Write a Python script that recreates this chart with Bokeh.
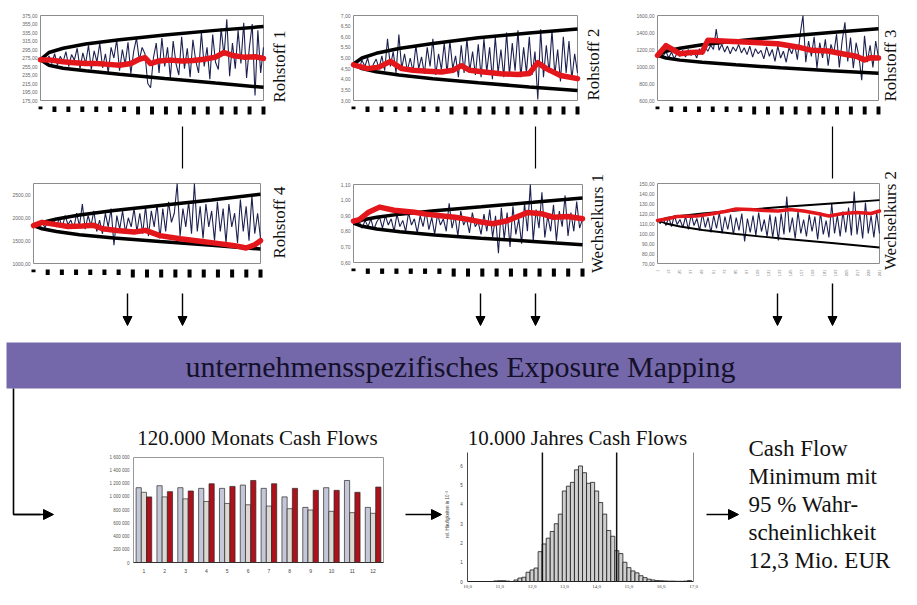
from math import pi
from bokeh.plotting import figure
from bokeh.models import Range1d, Arrow, NormalHead
from bokeh.core.properties import value
from bokeh.embed import file_html
from bokeh.resources import INLINE

SERIF = value("Liberation Serif")
SANS = value("Liberation Sans")
NAVY = "#1d2150"
RED = "#e3161c"
UP = pi / 2  # text reading bottom-to-top

# ---------------- data: six simulated price paths ----------------
N = 80
env_x = [0, 3, 8, 16, 28, 44, 62, 79]
block_months = [1, 16, 31, 46, 61, 76, 91, 106, 121, 136, 151, 166, 181, 196, 211, 226, 241]
w2_months = [1, 13, 25, 37, 49, 61, 73, 85, 97, 109, 121, 133, 145, 157, 169, 181, 193, 205, 217, 229, 241]

r1_ticks = [175, 195, 215, 235, 255, 275, 295, 315, 335, 355, 375]
r1_upper = [271, 288, 298, 308, 318, 329, 340, 349]
r1_lower = [271, 258, 251, 245, 237, 227, 216, 206]
r1_red_x = [0, 4, 8, 12, 16, 20, 24, 28, 32, 35, 37, 39, 42, 46, 50, 54, 58, 62, 65, 68, 72, 76, 79]
r1_red = [271, 270, 266, 264, 262, 262, 260, 258, 262, 272, 276, 262, 268, 270, 268, 269, 272, 277, 288, 281, 277, 278, 274]
r1_sim = [271, 275, 265, 280, 262, 285, 258, 279, 266, 290,
          255, 283, 270, 298, 250, 287, 262, 305, 248, 292,
          266, 310, 252, 285, 240, 300, 275, 318, 245, 295,
          260, 312, 238, 290, 322, 270, 300, 285, 215, 205,
          275, 310, 240, 322, 255, 300, 228, 315, 262, 235,
          325, 250, 298, 230, 318, 268, 240, 335, 255, 300,
          225, 330, 265, 248, 345, 280, 366, 232, 310, 250,
          340, 262, 358, 228, 300, 355, 187, 340, 240, 300]

r2_ticks = [3.0, 3.5, 4.0, 4.5, 5.0, 5.5, 6.0, 6.5, 7.0]
r2_upper = [4.72, 5.0, 5.22, 5.45, 5.68, 5.95, 6.18, 6.37]
r2_lower = [4.72, 4.5, 4.35, 4.2, 4.02, 3.83, 3.64, 3.47]
r2_red_x = [0, 5, 9, 13, 17, 21, 26, 31, 35, 38, 41, 46, 52, 58, 62, 65, 68, 73, 79]
r2_red = [4.68, 4.5, 4.57, 4.84, 4.5, 4.42, 4.38, 4.34, 4.42, 4.64, 4.42, 4.34, 4.26, 4.22, 4.27, 4.78, 4.5, 4.18, 4.03]
r2_sim = [4.7, 4.8, 4.5, 4.9, 4.6, 5.0, 4.4, 4.7, 4.95, 4.5,
          5.1, 4.4, 5.9, 4.6, 5.3, 4.3, 6.1, 4.5, 5.2, 4.4,
          5.0, 4.35, 5.6, 4.5, 5.05, 4.25, 5.5, 4.6, 5.9, 4.2,
          5.2, 4.45, 5.7, 4.3, 5.8, 4.5, 5.1, 4.1, 5.6, 4.3,
          5.9, 4.4, 5.3, 4.2, 5.65, 4.1, 5.9, 4.35, 5.5, 4.0,
          6.0, 4.3, 5.4, 4.1, 6.2, 4.2, 5.7, 4.4, 6.3, 4.1,
          5.5, 4.3, 6.0, 4.2, 5.3, 3.05, 6.35, 4.1, 5.6, 4.3,
          6.3, 4.2, 5.4, 3.9, 6.0, 4.3, 5.8, 4.0, 5.2, 4.3]

r3_ticks = [600, 800, 1000, 1200, 1400, 1600]
r3_upper = [1130, 1180, 1215, 1255, 1300, 1350, 1400, 1443]
r3_lower = [1130, 1100, 1075, 1050, 1020, 985, 950, 922]
r3_red_x = [0, 3, 8, 12, 16, 18, 25, 33, 43, 50, 55, 61, 66, 71, 74, 76, 79]
r3_red = [1130, 1245, 1150, 1165, 1170, 1310, 1298, 1285, 1268, 1230, 1190, 1182, 1150, 1120, 1078, 1102, 1100]
r3_sim = [1130, 1150, 1120, 1180, 1100, 1170, 1090, 1160, 1120, 1190,
          1110, 1200, 1130, 1180, 1100, 1210, 1140, 1230, 1180, 1250,
          1200, 1440, 1190, 1260, 1170, 1240, 1150, 1230, 1180, 1260,
          1160, 1220, 1140, 1240, 1110, 1210, 1150, 1190, 1090, 1230,
          1120, 1200, 1060, 1240, 1100, 1180, 1050, 1220, 1150, 1260,
          1080, 1380, 1600, 1050, 1300, 1120, 1350, 980, 1280, 1100,
          1320, 1010, 1260, 1150, 1380, 990, 1300, 1520, 1060, 1340,
          980, 1280, 1120, 840, 1360, 1050, 1250, 990, 1300, 1100]

r4_ticks = [1000, 1500, 2000, 2500]
r4_upper = [1830, 1900, 1975, 2060, 2160, 2270, 2390, 2515]
r4_lower = [1830, 1760, 1700, 1630, 1560, 1480, 1400, 1316]
r4_red_x = [0, 3, 8, 12, 17, 21, 24, 29, 35, 39, 44, 51, 58, 64, 70, 74, 77, 79]
r4_red = [1830, 1900, 1850, 1810, 1820, 1835, 1760, 1720, 1690, 1725, 1610, 1540, 1485, 1440, 1390, 1340, 1410, 1500]
r4_sim = [1830, 1860, 1800, 1900, 1780, 1920, 1850, 1960, 1800, 2000,
          1780, 2050, 1850, 1950, 1760, 2100, 1820, 2300, 1750, 2050,
          1820, 2150, 1700, 1950, 1650, 2100, 1800, 2200, 1400, 2050,
          1750, 2150, 1680, 2000, 1800, 2200, 1700, 2100, 1650, 2250,
          1600, 2150, 1800, 2300, 1550, 2200, 1700, 2350, 1900, 2100,
          2750, 1600, 2200, 1800, 2350, 1650, 2750, 1700, 2250, 1550,
          2300, 1800, 2150, 1500, 2350, 1700, 2200, 1450, 2300, 1800,
          2100, 1450, 2400, 1700, 2250, 1500, 2480, 1650, 2100, 1550]

w1_ticks = [0.6, 0.7, 0.8, 0.9, 1.0, 1.1]
w1_upper = [0.852, 0.872, 0.89, 0.91, 0.932, 0.957, 0.986, 1.014]
w1_lower = [0.852, 0.832, 0.815, 0.797, 0.777, 0.756, 0.735, 0.714]
w1_red_x = [0, 2, 5, 9, 14, 21, 25, 30, 35, 39, 44, 48, 53, 60, 65, 69, 74, 79]
w1_red = [0.865, 0.875, 0.92, 0.955, 0.935, 0.922, 0.91, 0.9, 0.89, 0.878, 0.86, 0.848, 0.868, 0.92, 0.912, 0.89, 0.895, 0.88]
w1_sim = [0.85, 0.84, 0.86, 0.82, 0.87, 0.83, 0.88, 0.81, 0.86, 0.89,
          0.82, 0.9, 0.84, 0.88, 0.8, 0.91, 0.83, 0.87, 0.8, 0.92,
          0.84, 0.88, 0.79, 0.9, 0.83, 0.93, 0.81, 0.89, 0.78, 0.91,
          0.84, 0.88, 0.8, 0.98, 0.82, 0.9, 0.77, 0.93, 0.84, 0.88,
          0.79, 0.92, 0.83, 0.86, 0.78, 0.91, 0.8, 0.94, 0.76, 0.9,
          0.66, 0.95, 0.75, 0.92, 0.7, 0.96, 0.78, 0.88, 0.72, 0.98,
          0.8, 1.1, 0.74, 0.94, 0.82, 1.05, 0.76, 0.9, 0.8, 0.97,
          0.74, 0.93, 0.83, 1.03, 0.77, 0.92, 0.8, 0.99, 0.82, 0.88]

w2_ticks = [70, 80, 90, 100, 110, 120, 130, 140, 150]
w2_upper = [113, 115.5, 117.5, 120, 123, 126.5, 130, 133.3]
w2_lower = [113, 110, 107, 103.5, 99.5, 95, 90.5, 86]
w2_red_x = [0, 4, 7, 14, 19, 24, 28, 33, 38, 43, 47, 52, 57, 61, 66, 71, 76, 79]
w2_red = [113, 115, 117, 117.5, 119.5, 122, 124.5, 124, 123, 122.5, 124, 122.5, 120, 117.5, 120, 121, 120, 122.5]
w2_sim = [113, 110, 115, 108, 116, 107, 118, 109, 114, 106,
          117, 104, 119, 108, 115, 103, 120, 106, 116, 101,
          118, 105, 121, 100, 117, 104, 119, 99, 116, 103,
          120, 92, 115, 101, 118, 98, 121, 102, 114, 97,
          119, 96, 117, 93, 120, 99, 137, 101, 116, 95,
          122, 100, 114, 97, 119, 102, 117, 94, 121, 99,
          113, 96, 130, 100, 118, 97, 122, 101, 126, 98,
          142, 99, 120, 95, 131, 100, 118, 96, 121, 100]

# ---------------- data: monthly cash flows ----------------
months = [1, 2, 3, 4, 5, 6, 7, 8, 9, 10, 11, 12]
cf_a = [1140000, 1170000, 1140000, 1130000, 1130000, 1180000, 1130000, 1000000, 840000, 1140000, 1250000, 840000]
cf_b = [1070000, 1000000, 970000, 930000, 900000, 880000, 860000, 820000, 800000, 780000, 760000, 750000]
cf_c = [1000000, 1080000, 1090000, 1200000, 1160000, 1250000, 1200000, 1130000, 1100000, 1100000, 1070000, 1150000]
cf_ticks = [0, 200000, 400000, 600000, 800000, 1000000, 1200000, 1400000, 1600000]

# ---------------- data: annual cash flow histogram ----------------
hist_centers = [10.875, 11.0, 11.125, 11.25, 11.375, 11.5, 11.625, 11.75, 11.875, 12.0,
                12.125, 12.25, 12.375, 12.5, 12.625, 12.75, 12.875, 13.0, 13.125, 13.25,
                13.375, 13.5, 13.625, 13.75, 13.875, 14.0, 14.125, 14.25, 14.375, 14.5,
                14.625, 14.75, 14.875, 15.0, 15.125, 15.25, 15.375, 15.5, 15.625, 15.75,
                15.875, 16.0, 16.125, 16.25, 16.375, 16.5, 16.625, 16.75, 16.875]
hist_heights = [0.03, 0.04, 0.04, 0.02, 0.0, 0.08, 0.18, 0.22, 0.48, 0.6,
                0.7, 1.55, 1.95, 2.25, 2.6, 3.0, 3.5, 4.7, 4.95, 5.15,
                5.8, 6.0, 5.65, 5.1, 5.15, 4.7, 4.1, 3.5, 2.65, 2.35,
                1.6, 1.45, 1.0, 0.72, 0.55, 0.45, 0.3, 0.2, 0.12, 0.08,
                0.05, 0.04, 0.03, 0.02, 0.02, 0.01, 0.01, 0.02, 0.05]
hist_bin_width = 0.125
hist_quantiles = [12.32, 14.62]
hist_xticks = [10, 11, 12, 13, 14, 15, 16, 17]
hist_yticks = [0, 1, 2, 3, 4, 5, 6]

# ---------------- figure (pixel-like canvas) ----------------
p = figure(width=901, height=589, x_range=Range1d(0, 901), y_range=Range1d(589, 0),
           output_backend="svg", toolbar_location=None, min_border=0,
           x_axis_location=None, y_axis_location=None)
p.grid.visible = False
p.outline_line_color = None
p.background_fill_color = "white"


def fmt2(v):
    return f"{v:.2f}".replace(".", ",")


def mini(box, yr, ticks, sim, red_x, red_y, upper, lower, label, label_xy, thin=False):
    x0, x1, y0, y1 = box
    sp = p.subplot(x_source=Range1d(0, N - 1), y_source=Range1d(*yr),
                   x_target=Range1d(x0, x1), y_target=Range1d(y1, y0))
    sp.quad(left=[0], right=[N - 1], bottom=[yr[0]], top=[yr[1]],
            fill_color="white", line_color="#8c8c8c", line_width=1)
    sp.line(list(range(N)), sim, line_color=NAVY, line_width=1.1)
    ew = 1.8 if thin else 3.5
    sp.line(env_x, upper, line_color="black", line_width=ew)
    sp.line(env_x, lower, line_color="black", line_width=ew)
    sp.line(red_x, red_y, line_color=RED, line_width=3.5 if thin else 5.5,
            line_join="round", line_cap="round")
    sp.text(x=[0] * len(ticks), y=ticks, text=[fmt2(t) for t in ticks], x_offset=-3,
            text_align="right", text_baseline="middle", text_font_size="5px",
            text_color="#666666", text_font=SANS)
    st = p.subplot(x_source=Range1d(0, N - 1), y_source=Range1d(0, 1),
                   x_target=Range1d(x0, x1), y_target=Range1d(y1 + 16, y1 + 6))
    if thin:
        pos = [(m - 1) / 240 * (N - 1) for m in w2_months]
        st.text(x=pos, y=[1] * len(pos), text=[str(m) for m in w2_months], angle=UP,
                text_align="right", text_baseline="middle", text_font_size="4px",
                text_color="#777777", text_font=SANS)
    else:
        pos = [(m - 1) / 240 * (N - 1) for m in block_months]
        st.vbar(x=pos, top=1, bottom=[1 - 0.27 * len(str(m)) for m in block_months],
                width=1.4, fill_color="black", line_color=None)
    p.text(x=[label_xy[0]], y=[label_xy[1]], text=[label], angle=UP,
           text_align="center", text_baseline="middle", text_font=SERIF,
           text_font_size="17px", text_color="#111111")


mini((40, 263, 15, 100), (175, 375), r1_ticks, r1_sim, r1_red_x, r1_red, r1_upper, r1_lower, "Rohstoff 1", (279, 66))
mini((353, 577, 15, 100), (3, 7), r2_ticks, r2_sim, r2_red_x, r2_red, r2_upper, r2_lower, "Rohstoff 2", (593, 64))
mini((657, 878, 15, 100), (600, 1600), r3_ticks, r3_sim, r3_red_x, r3_red, r3_upper, r3_lower, "Rohstoff 3", (890, 65))
mini((33, 260, 183, 263), (1000, 2750), r4_ticks, r4_sim, r4_red_x, r4_red, r4_upper, r4_lower, "Rohstoff 4", (279, 222))
mini((353, 582, 184, 262), (0.6, 1.1), w1_ticks, w1_sim, w1_red_x, w1_red, w1_upper, w1_lower, "Wechselkurs 1", (597, 223))
mini((657, 879, 183, 263), (70, 150), w2_ticks, w2_sim, w2_red_x, w2_red, w2_upper, w2_lower, "Wechselkurs 2", (890, 220), thin=True)

# connectors and arrows
p.segment(x0=[182, 535, 832], y0=[126, 126, 126], x1=[182, 535, 832], y1=[168, 168, 178],
          line_color="black", line_width=1.2)
for ax, ay0 in [(127, 293), (182, 293), (480, 293), (535, 293), (777, 293), (832, 283)]:
    p.add_layout(Arrow(end=NormalHead(size=9, fill_color="black", line_color="black"),
                       x_start=ax, y_start=ay0, x_end=ax, y_end=325,
                       line_color="black", line_width=1.4))

# banner
p.quad(left=[6], right=[917], top=[342], bottom=[388], fill_color="#7468aa", line_color=None)
p.text(x=[460], y=[366], text=["unternehmensspezifisches Exposure Mapping"],
       text_align="center", text_baseline="middle", text_font=SERIF,
       text_font_size="30px", text_color="#15112a")

# left L connector and flow arrows
p.line(x=[13, 13, 40], y=[388, 514, 514], line_color="black", line_width=1.6)
for xs, xe in [(13, 53), (405, 441), (706, 738)]:
    p.add_layout(Arrow(end=NormalHead(size=10, fill_color="black", line_color="black"),
                       x_start=xs, y_start=514, x_end=xe, y_end=514,
                       line_color="black", line_width=1.6))

# bar chart
p.text(x=[257], y=[437], text=["120.000 Monats Cash Flows"], text_align="center",
       text_baseline="middle", text_font=SERIF, text_font_size="21px", text_color="#111111")
bc = p.subplot(x_source=Range1d(0.5, 12.5), y_source=Range1d(0, 1600000),
               x_target=Range1d(133, 383), y_target=Range1d(562, 457))
bc.quad(left=[0.5], right=[12.5], bottom=[0], top=[1600000], fill_color="white",
        line_color="#9a9a9a", line_width=1)
bc.vbar(x=[m - 0.25 for m in months], top=cf_a, width=0.25, fill_color="#c4c7d8",
        line_color="#2a2a2a", line_width=0.7)
bc.vbar(x=months, top=cf_b, width=0.25, fill_color="#dcd9d3", line_color="#2a2a2a", line_width=0.7)
bc.vbar(x=[m + 0.25 for m in months], top=cf_c, width=0.25, fill_color="#ad111b",
        line_color="#2a2a2a", line_width=0.7)
bc.segment(x0=[0.5], y0=[0], x1=[12.5], y1=[0], line_color="#333333", line_width=1)
bc.text(x=[0.5] * len(cf_ticks), y=cf_ticks, text=[f"{v:,}".replace(",", " ") for v in cf_ticks],
        x_offset=-4, text_align="right", text_baseline="middle", text_font_size="4.5px",
        text_color="#555555", text_font=SANS)
bc.text(x=months, y=[0] * 12, text=[str(m) for m in months], y_offset=8, text_align="center",
        text_baseline="middle", text_font_size="5px", text_color="#444444", text_font=SANS)

# histogram
p.text(x=[577], y=[437], text=["10.000 Jahres Cash Flows"], text_align="center",
       text_baseline="middle", text_font=SERIF, text_font_size="21px", text_color="#111111")
hc = p.subplot(x_source=Range1d(10, 17), y_source=Range1d(0, 6.7),
               x_target=Range1d(467, 693), y_target=Range1d(581, 452))
hc.vbar(x=hist_centers, top=hist_heights, width=hist_bin_width, fill_color="#cfcfcf",
        line_color="#1a1a1a", line_width=0.8)
hc.segment(x0=[10, 10, 17], y0=[0, 0, 0], x1=[17, 10, 17], y1=[0, 6.7, 6.7],
           line_color=["#222222", "#444444", "#888888"], line_width=1)
hc.segment(x0=hist_quantiles, y0=[0, 0], x1=hist_quantiles, y1=[6.7, 6.7],
           line_color="#111111", line_width=1.5)
hc.text(x=hist_xticks, y=[0] * len(hist_xticks), text=[f"{v},0" for v in hist_xticks], y_offset=5,
        text_align="center", text_baseline="middle", text_font_size="5px",
        text_color="#444444", text_font=SERIF)
hc.text(x=[10] * len(hist_yticks), y=hist_yticks, text=[str(v) for v in hist_yticks], x_offset=-6,
        text_align="center", text_baseline="middle", text_font_size="4.5px",
        text_color="#444444", text_font=SANS)
p.text(x=[447], y=[514], text=["rel. Häufigkeiten in 10⁻²"], angle=UP,
       text_align="center", text_baseline="middle", text_font_size="4.5px",
       text_color="#444444", text_font=SANS)

# conclusion text
concl = ["Cash Flow", "Minimum mit", "95 % Wahr-", "scheinlichkeit", "12,3 Mio. EUR"]
p.text(x=[748] * 5, y=[448, 476, 504, 532, 560], text=concl, text_align="left",
       text_baseline="middle", text_font=SERIF, text_font_size="23px", text_color="#111111")

open("out.html", "w").write(file_html(p, INLINE))
